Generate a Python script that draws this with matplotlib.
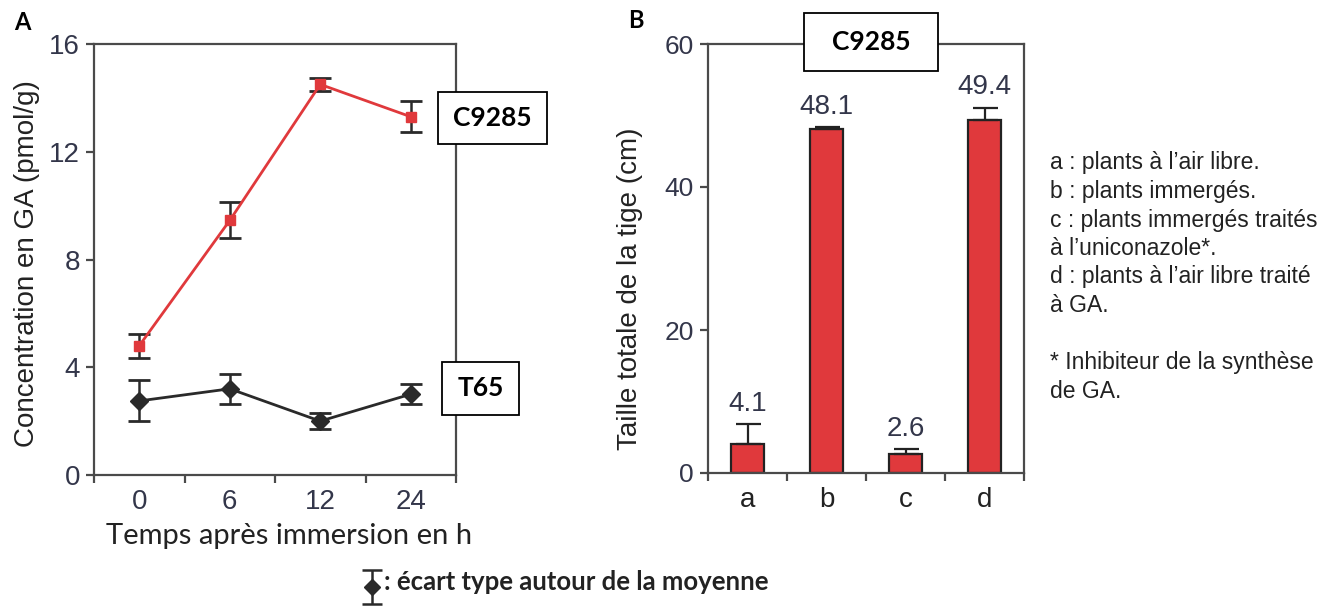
import matplotlib
matplotlib.use("Agg")
import matplotlib.pyplot as plt
from matplotlib.patches import Rectangle

plt.rcParams['font.family'] = ['Liberation Sans', 'DejaVu Sans']

# --- Données panneau A ---
temps = ["0", "6", "12", "24"]
c9285 = [4.8, 9.45, 14.5, 13.3]
c9285_err = [0.45, 0.67, 0.25, 0.58]
t65 = [2.75, 3.2, 2.0, 3.0]
t65_err = [0.76, 0.55, 0.3, 0.38]

# --- Données panneau B ---
traitements = ["a", "b", "c", "d"]
taille = [4.1, 48.1, 2.6, 49.4]
taille_err = [2.7, 0.3, 0.7, 1.7]

legende_b = [
    "a : plants à l\u2019air libre.",
    "b : plants immergés.",
    "c : plants immergés traités",
    "à l\u2019uniconazole*.",
    "d : plants à l\u2019air libre traité",
    "à GA.",
    "",
    "* Inhibiteur de la synthèse",
    "de GA.",
]

rouge = "#e0393c"
noir = "#2a2a2a"
gris_axe = "#4a4a4a"
couleur_ticks = "#33364a"
calibri = ["Lato", "DejaVu Sans"]

W, H = 1340, 609
fig = plt.figure(figsize=(W / 100, H / 100), dpi=100)


def px_axes(x0, y0, x1, y1):
    """Rectangle en pixels (haut-gauche) -> coordonnées figure"""
    return [x0 / W, 1 - y1 / H, (x1 - x0) / W, (y1 - y0) / H]


def style_axes(ax):
    for s in ax.spines.values():
        s.set_color(gris_axe)
        s.set_linewidth(1.6)
    ax.tick_params(axis="both", colors=gris_axe, width=1.6, length=6,
                   labelcolor=couleur_ticks, labelsize=20)


def boite_texte(x0, y0, x1, y1, texte):
    r = Rectangle((x0 / W, 1 - y1 / H), (x1 - x0) / W, (y1 - y0) / H,
                  transform=fig.transFigure, fc="white", ec="black", lw=1.3,
                  zorder=5)
    fig.patches.append(r)
    fig.text((x0 + x1) / 2 / W, 1 - (y0 + y1) / 2 / H, texte, fontsize=19,
             fontweight="bold", ha="center", va="center", family=calibri,
             zorder=6)


# ---------------- Panneau A ----------------
axA = fig.add_axes(px_axes(94, 44, 456, 475))
x = list(range(len(temps)))
axA.errorbar(x, c9285, yerr=c9285_err, color=rouge, lw=2, marker="s",
             ms=7, capsize=8, capthick=2, ecolor=noir, elinewidth=1.8)
axA.errorbar(x, t65, yerr=t65_err, color=noir, lw=2, marker="D",
             ms=9, capsize=8, capthick=2, ecolor=noir, elinewidth=1.8)
axA.set_xlim(-0.5, 3.5)
axA.set_ylim(0, 16)
axA.set_yticks([0, 4, 8, 12, 16])
axA.set_xticks(x)
axA.set_xticklabels(temps)
axA.set_xticks([-0.5, 0.5, 1.5, 2.5, 3.5], minor=True)
style_axes(axA)
axA.tick_params(axis="y", pad=4)
axA.tick_params(axis="x", which="major", length=0, pad=10)
axA.tick_params(axis="x", which="minor", length=6, width=1.6, color=gris_axe)
axA.set_ylabel("Concentration en GA (pmol/g)", fontsize=20, color="#222222")
axA.yaxis.set_label_coords(-0.148, 0.49)
axA.set_xlabel("Temps après immersion en h", fontsize=21, color="#222222",
               family=calibri)
axA.xaxis.set_label_coords(0.54, -0.112)

fig.text(14 / W, 1 - 22 / H, "A", fontsize=17, fontweight="bold",
         va="center", family=calibri)

boite_texte(438, 92, 547, 144, "C9285")
boite_texte(442, 362, 519, 415, "T65")

# ---------------- Panneau B ----------------
axB = fig.add_axes(px_axes(708, 44, 1024, 473))
xb = list(range(len(traitements)))
axB.bar(xb, taille, width=0.43, color=rouge, edgecolor="#222222", lw=1.6,
        yerr=[[0] * len(taille), taille_err], capsize=9,
        error_kw=dict(ecolor="#222222", elinewidth=1.6, capthick=1.6),
        zorder=2)
for xi, v, e in zip(xb, taille, taille_err):
    axB.text(xi, v + e + 1.0, f"{v:.1f}", ha="center", va="bottom",
             fontsize=20, color=couleur_ticks)
axB.set_xlim(-0.5, 3.5)
axB.set_ylim(0, 60)
axB.set_yticks([0, 20, 40, 60])
axB.set_xticks(xb)
axB.set_xticklabels(traitements)
axB.set_xticks([-0.5, 0.5, 1.5, 2.5, 3.5], minor=True)
style_axes(axB)
axB.tick_params(axis="y", pad=4, labelsize=19)
axB.tick_params(axis="x", which="major", length=0, pad=10, labelcolor="#222222",
                labelsize=20)
axB.tick_params(axis="x", which="minor", length=6, width=1.6, color=gris_axe)
axB.set_ylabel("Taille totale de la tige (cm)", fontsize=20, color="#222222")
axB.yaxis.set_label_coords(-0.205, 0.43)

fig.text(628 / W, 1 - 20 / H, "B", fontsize=17, fontweight="bold",
         va="center", family=calibri)
boite_texte(804, 13, 938, 71, "C9285")

# légende texte à droite
y0 = 163
for i, ligne in enumerate(legende_b):
    fig.text(1050 / W, 1 - (y0 + i * 28.5) / H, ligne, fontsize=16.5,
             color="#222222", va="center")

# ---------------- Symbole écart type ----------------
axS = fig.add_axes(px_axes(362, 567, 382, 607))
axS.errorbar([0], [0], yerr=[1], color=noir, marker="D", ms=8,
             capsize=7, capthick=1.8, elinewidth=1.8)
axS.set_xlim(-1, 1)
axS.set_ylim(-1.15, 1.15)
axS.axis("off")
fig.text(384 / W, 1 - 582 / H, ": écart type autour de la moyenne",
         fontsize=18.5, fontweight="bold", va="center", color="#222222",
         family=calibri)

fig.savefig("out.png", dpi=100)
